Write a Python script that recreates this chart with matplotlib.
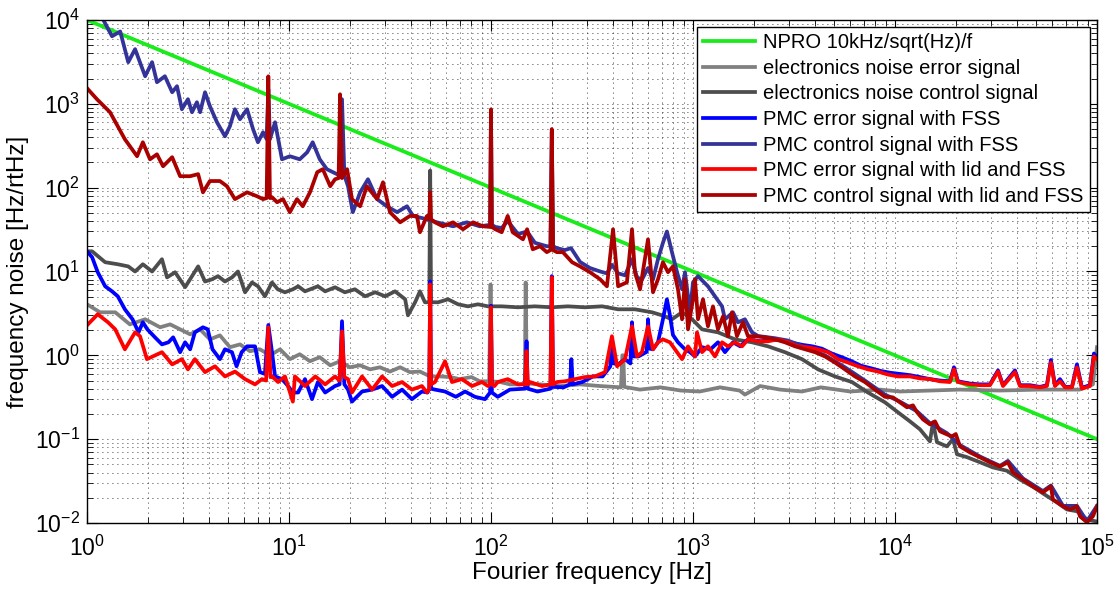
import matplotlib
matplotlib.use("Agg")
import matplotlib.pyplot as plt
from matplotlib.ticker import LogLocator, NullFormatter

plt.rcParams['font.family'] = ['Liberation Sans', 'DejaVu Sans']

# NPRO free running noise 1e4/f
f_npro = [1, 1e5]
a_npro = [1e4, 0.1]

# electronics noise, error signal
f_el_err = [1, 1.16, 1.38, 1.63, 1.94, 2.3, 2.58, 3.24, 3.63, 4.06, 4.55, 5.1, 5.72, 6.41,
            7.18, 8.05, 9.03, 10.1, 11.3, 12.7, 14.2, 16.0, 17.9, 20.0, 22.5, 25.2, 28.2,
            31.6, 35.5, 39.7, 44.5, 50.0, 56.0, 63.0, 70.0, 80.0, 88.0, 98.0, 99.5, 101,
            111, 124, 139, 147, 148.5, 150.5, 156, 175, 220, 276, 347, 440, 447, 452, 457,
            547, 690, 870, 1080, 1360, 1700, 1808, 2150, 2700, 3460, 4300, 6000, 8430,
            10600, 15000, 21000, 33000, 52000, 82000, 95500, 100000]
a_el_err = [4.06, 3.26, 3.26, 2.34, 2.69, 2.16, 2.34, 1.78, 2.04, 1.55, 1.73, 1.25, 1.35, 1.12,
            1.18, 1.0, 1.18, 0.9, 1.03, 0.85, 0.95, 0.76, 0.85, 0.72, 0.76, 0.68, 0.72,
            0.64, 0.72, 0.63, 0.64, 0.56, 0.56, 0.55, 0.52, 0.55, 0.49, 0.49, 7.0, 0.49,
            0.48, 0.45, 0.45, 0.46, 7.4, 0.46, 0.46, 0.45, 0.43, 0.45, 0.43, 0.415, 1.0, 1.0, 0.42,
            0.39, 0.415, 0.38, 0.37, 0.415, 0.38, 0.34, 0.43, 0.39, 0.37, 0.415, 0.37, 0.39,
            0.37, 0.38, 0.39, 0.38, 0.39, 0.39, 0.45, 1.25]

# electronics noise, control signal
f_el_ctl = [1, 1.06, 1.23, 1.42, 1.6, 1.73, 1.89, 2.1, 2.35, 2.49, 2.73, 3.06, 3.55, 3.84,
            4.16, 4.45, 4.82, 5.22, 5.59, 6.06, 6.56, 7.02, 7.6, 8.24, 8.8, 9.55, 10.45,
            11.1, 12.0, 13.9, 15.1, 16.9, 18.9, 21.2, 23.8, 26.7, 29.9, 33.5, 37.6, 38.8,
            42.1, 44.5, 47.1, 49.5, 50.0, 50.5, 54.7, 61.3, 68.7, 76.9, 86.2, 96.6, 113,
            136, 165, 200, 240, 292, 355, 426, 516, 627, 703, 787, 883, 990, 1109, 1330,
            1614, 1960, 2352, 2853, 3465, 4159, 5047, 6126, 7350, 8920, 10600, 11860,
            13300, 14900, 15420, 16140, 18080, 19370, 20280, 22710, 26360, 30550, 35840,
            41580, 48180, 56500, 63390, 71000, 79600, 89200, 100000]
a_el_ctl = [17.4, 17.4, 12.9, 12.2, 11.5, 10.0, 12.2, 10.0, 14.0, 8.5, 9.8, 6.5, 11.5, 7.6,
            8.07, 8.8, 7.6, 8.5, 10.0, 5.65, 7.4, 6.66, 5.06, 7.4, 6.13, 5.65, 6.13,
            6.66, 5.8, 6.66, 5.8, 6.48, 5.65, 6.13, 5.06, 5.65, 5.06, 5.8, 4.66, 3.0,
            4.29, 5.8, 4.29, 4.3, 160, 4.3, 4.29, 4.66, 4.06, 3.84, 4.06, 3.84, 3.84,
            3.74, 3.84, 3.74, 3.84, 3.74, 3.84, 3.54, 3.54, 3.26, 3.0, 2.69, 3.26, 2.69,
            2.04, 1.88, 1.55, 1.43, 1.28, 1.09, 0.90, 0.68, 0.56, 0.48, 0.36, 0.275, 0.2,
            0.163, 0.131, 0.094, 0.159, 0.092, 0.082, 0.1, 0.066, 0.061, 0.053, 0.046,
            0.042, 0.033, 0.027, 0.021, 0.0176, 0.0145, 0.0138, 0.011, 0.0104]

# PMC error signal with FSS
f_err_fss = [1, 1.06, 1.13, 1.23, 1.33, 1.42, 1.54, 1.68, 1.8, 1.89, 1.99, 2.17, 2.35,
             2.53, 2.67, 2.89, 3.06, 3.24, 3.42, 3.75, 3.96, 4.18, 4.55, 4.82, 5.22,
             5.5, 5.83, 6.2, 6.79, 7.18, 7.6, 7.9, 8.24, 8.53, 9.23, 9.9, 10.45, 11.1,
             12.0, 13.0, 13.9, 15.1, 16.9, 17.8, 18.3, 18.8, 19.6, 20.5, 23.0, 25.8, 28.9,
             32.4, 36.3, 40.6, 45.5, 48.5, 49.5, 50.0, 50.5, 52.8, 59.2, 67.0, 74.4, 83.3,
             93.4, 99, 100, 101, 108, 124, 147.5, 150, 152, 170, 197, 200, 203, 229, 246,
             250, 254, 283, 320, 357, 390, 397, 405, 426, 461, 490, 499, 510, 537, 590,
             599, 610, 634, 671, 710, 743, 769, 796, 843, 913, 967, 1023, 1109, 1221,
             1330, 1440, 1578, 1715, 1872, 2170, 2500, 2800, 3150, 3500, 3900, 4350,
             4870, 5450, 6100, 6800, 7620, 8520, 9440, 10590, 11860, 13300, 14900, 16710,
             18710, 19590, 20500, 23500, 26360, 29530, 32360, 34270, 39270, 41580, 46560,
             52200, 56500, 59170, 61940, 65610, 69500, 75200, 79600, 84300, 92300, 96600,
             100000]
a_err_fss = [17.4, 14.8, 9.8, 6.66, 5.8, 5.06, 3.54, 2.69, 1.88, 2.48, 2.04, 1.64, 1.35,
             1.43, 1.64, 1.09, 1.43, 1.18, 1.88, 2.16, 2.04, 1.18, 0.9, 1.18, 1.09,
             0.74, 1.09, 1.28, 1.28, 0.63, 0.6, 2.3, 1.09, 0.56, 0.52, 0.43, 0.36, 0.36,
             0.52, 0.30, 0.48, 0.36, 0.43, 0.45, 2.55, 0.45, 0.39, 0.28, 0.37, 0.39, 0.43,
             0.32, 0.39, 0.30, 0.37, 0.36, 0.4, 7.6, 0.4, 0.39, 0.37, 0.32, 0.37, 0.32,
             0.30, 0.36, 3.9, 0.36, 0.32, 0.39, 0.4, 1.47, 0.4, 0.37, 0.4, 8.8, 0.42, 0.415, 0.45,
             0.9, 0.45, 0.48, 0.56, 0.56, 0.74, 1.55, 0.8, 0.78, 0.9, 0.8, 2.48, 0.97, 0.97, 1.1,
             2.69, 1.2, 1.18, 1.43, 2.69, 4.66, 3.0, 1.75, 1.43, 1.18, 1.09, 0.97, 1.25, 1.18,
             1.43, 1.09, 1.43, 1.28, 1.55, 1.47, 1.55, 1.5, 1.4, 1.33, 1.28, 1.2,
             1.05, 0.95, 0.85, 0.75, 0.70, 0.65, 0.62, 0.60, 0.58, 0.55, 0.52, 0.50,
             0.49, 0.72, 0.49, 0.46, 0.45, 0.45, 0.66, 0.44, 0.66, 0.44, 0.44,
             0.42, 0.44, 0.88, 0.44, 0.52, 0.42, 0.42, 0.78, 0.41, 0.44, 1.05,
             0.95]

# PMC control signal with FSS
f_ctl_fss = [1.0, 1.2, 1.33, 1.46, 1.6, 1.73, 1.94, 2.1, 2.22, 2.43, 2.64, 2.79, 2.95,
             3.16, 3.31, 3.5, 3.63, 3.84, 4.06, 4.4, 4.82, 5.1, 5.4, 5.72, 6.2, 6.64,
             7.02, 7.44, 7.75, 7.9, 8.05, 8.53, 9.23, 10.1, 11.3, 12.3, 13.1, 14.2, 15.4,
             16.5, 17.8, 18.3, 18.8, 19.6, 20.7, 22.5, 24.6, 27.3, 30.5, 34.3, 38.4, 41.1,
             48.2, 54.0, 64.9, 76.0, 88.0, 99, 100, 101, 105, 113, 121, 136, 151, 165,
             189, 197, 200, 203, 212, 232, 249, 276, 309, 347, 375, 397, 426, 461, 499,
             528, 559, 599, 634, 671, 710, 743, 787, 834, 883, 913, 967, 1000, 1059,
             1186, 1285, 1393, 1440, 1578, 1670, 1808, 1960, 2100, 2545, 2953, 3586,
             4500, 5653, 7100, 8920, 10590, 12850, 14900, 18080, 20990, 26360, 33110,
             36240, 43030, 54050, 59170, 67920, 79600, 89200, 100000]
a_ctl_fss = [20000, 10200, 6400, 7300, 3140, 4490, 2135, 3140, 1810, 2135, 1375, 1622, 862,
             1135, 794, 1045, 794, 1375, 936, 603, 410, 541, 862, 655, 862, 498,
             348, 458, 380, 1500, 378, 603, 218, 237, 218, 264, 348, 218, 166,
             153, 140, 1135, 140, 104, 51, 88, 126, 73, 60, 51, 60, 46,
             42, 38.6, 34.6, 38.6, 34.6, 36, 800, 36, 34, 33, 40, 28, 30, 22,
             20, 20, 460, 20, 19, 18, 19, 13, 11, 10, 9.5, 12, 9.5, 9, 14,
             8.5, 8, 11, 8, 14, 22, 30, 17, 9.8, 6.13, 9.8, 3.26, 7.43, 8.8,
             6.66, 5.06, 3.84, 2.69, 3.26, 2.48, 2.69, 1.88, 1.7, 1.6, 1.5, 1.25,
             1.0, 0.72, 0.5, 0.34, 0.28, 0.215, 0.155, 0.118, 0.085, 0.062, 0.048,
             0.055, 0.034, 0.024, 0.028, 0.016, 0.016, 0.0105, 0.016]

# PMC error signal with lid and FSS
f_err_lid = [1, 1.13, 1.27, 1.38, 1.54, 1.73, 1.83, 1.98, 2.35, 2.64, 2.95, 3.16, 3.42,
             3.84, 4.3, 4.82, 5.4, 6.06, 6.79, 7.35, 7.7, 7.9, 8.1, 8.24, 8.83, 9.55,
             10.45, 10.7, 12.0, 13.5, 15.1, 16.9, 17.8, 18.3, 18.8, 19.6, 20.5, 23.0,
             25.8, 28.9, 32.4, 36.3, 40.6, 45.5, 48.2, 49.5, 50.0, 50.5, 52.8, 59.2,
             64.1, 71.8, 80.5, 90.2, 96.6, 99, 100, 101, 104, 108, 121, 136, 147.5, 150,
             152, 156, 179, 197, 200, 203, 212, 232, 261, 292, 327, 367, 397, 421, 461,
             499, 528, 559, 599, 634, 671, 710, 769, 834, 883, 945, 1023, 1047, 1109,
             1186, 1285, 1393, 1490, 1614, 1750, 1872, 2100, 2352, 2636, 2953, 3311,
             3710, 4159, 4660, 5224, 5851, 6561, 7350, 8240, 9230, 10350, 11860, 13300,
             14900, 16710, 18710, 19590, 20500, 23500, 26360, 29530, 32360, 34270,
             39270, 41580, 46560, 52200, 56500, 59170, 61940, 65610, 69500, 75200,
             79600, 84300, 92300, 96600, 100000]
a_err_lid = [2.28, 3.09, 2.48, 2.04, 1.18, 1.88, 1.69, 0.9, 1.09, 0.78, 0.9, 0.68, 0.9,
             0.63, 0.74, 0.56, 0.64, 0.52, 0.45, 0.52, 0.5, 2.16, 0.55, 0.56, 0.48, 0.56,
             0.28, 0.56, 0.43, 0.56, 0.45, 0.56, 0.5, 1.93, 0.55, 0.52, 0.36, 0.56,
             0.39, 0.56, 0.43, 0.48, 0.39, 0.43, 0.36, 0.4, 7.0, 0.45, 0.48, 0.85,
             0.48, 0.52, 0.43, 0.48, 0.43, 0.45, 3.74, 0.45, 0.43, 0.48, 0.52, 0.45, 0.45, 1.12,
             0.45, 0.48, 0.43, 0.45, 8.5, 0.45, 0.48, 0.49, 0.52, 0.55, 0.56, 0.63, 1.69, 0.74, 0.9,
             2.22, 0.97, 1.09, 2.22, 1.18, 1.43, 1.55, 1.43, 1.09, 0.9, 1.28, 0.97, 1.88, 1.09,
             1.28, 0.97, 1.43, 1.28, 1.43, 1.28, 1.55, 1.47, 1.47, 1.55, 1.43, 1.28,
             1.25, 1.18, 1.09, 0.9, 0.82, 0.74, 0.68, 0.64, 0.59, 0.56, 0.56, 0.53,
             0.52, 0.49, 0.48, 0.68, 0.48, 0.45, 0.44, 0.44, 0.64, 0.43,
             0.63, 0.43, 0.43, 0.415, 0.43, 0.82, 0.43, 0.49, 0.415, 0.415,
             0.72, 0.40, 0.43, 0.97, 0.9]

# PMC control signal with lid and FSS
f_ctl_lid = [1, 1.12, 1.3, 1.42, 1.54, 1.77, 1.89, 2.05, 2.22, 2.38, 2.64, 2.89, 3.24,
             3.55, 3.75, 4.06, 4.55, 4.93, 5.4, 6.2, 6.95, 7.44, 7.75, 7.9, 8.05, 8.24,
             8.73, 9.34, 10.1, 10.95, 11.7, 12.7, 13.8, 14.7, 16.0, 16.9, 17.6, 17.9,
             18.3, 19.4, 20.5, 22.5, 24.3, 27.3, 29.2, 31.6, 35.5, 39.7, 43.0, 44.5,
             48.2, 49.5, 50.0, 50.5, 52.8, 57.8, 64.9, 72.7, 81.5, 91.3, 99, 100, 101,
             105, 113, 121, 128, 144, 151, 161, 175, 189, 197, 200, 203, 212, 227, 252,
             276, 309, 347, 375, 402, 426, 471, 499, 516, 547, 599, 634, 671, 710, 752,
             796, 843, 883, 913, 945, 1000, 1023, 1059, 1121, 1186, 1256, 1330, 1409,
             1490, 1560, 1651, 1768, 1872, 2028, 2272, 2545, 2853, 3198, 3586, 4018,
             4500, 5047, 5653, 6339, 7100, 7960, 8920, 9770, 10590, 11460, 12280, 12850,
             13770, 14900, 15780, 16710, 18080, 19150, 20000, 20990, 23500, 26360,
             29530, 33110, 36240, 38380, 43030, 48180, 54050, 59170, 60530, 67920,
             73500, 79600, 82400, 89200, 95500, 100000]
a_ctl_lid = [1536, 1135, 794, 541, 378, 237, 348, 218, 250, 180, 231, 137, 137,
             145, 88, 120, 120, 104, 73, 88, 79, 73, 75, 2130, 75, 77,
             67, 73, 51, 73, 60, 88, 153, 166, 104, 126, 130, 1300,
             130, 166, 73, 60, 104, 73, 116, 51, 38.6, 46, 46, 29.4,
             46, 42, 88, 42, 38.6, 34.6, 38.6, 31.9, 38.6, 34.6, 34, 860, 34,
             31.9, 29.4, 46, 29.4, 24.2, 31.9, 18.4, 20, 17, 18, 500, 18, 17, 17, 12.9,
             11.5, 9.8, 8.07, 6.66, 31.9, 6.66, 7.43, 31.9, 9.8, 6.13, 24.2, 5.65, 8.07, 12.9, 9.8,
             11.5, 6.13, 2.69, 8.07, 2.04, 4.66, 8.07, 2.69, 4.66, 2.22, 3.84, 2.04, 2.92,
             1.69, 3.26, 1.69, 2.48, 1.69, 1.69, 1.64, 1.55, 1.43, 1.28, 1.18, 1.09,
             0.97, 0.82, 0.68, 0.56, 0.48, 0.39, 0.32, 0.315, 0.275, 0.24, 0.253, 0.21,
             0.172, 0.15, 0.163, 0.124, 0.114, 0.108, 0.115, 0.082, 0.0695, 0.0607,
             0.0529, 0.0473, 0.0529, 0.0402, 0.0331, 0.0273, 0.0232, 0.0273, 0.0191, 0.0158,
             0.0145, 0.0158, 0.012, 0.0102, 0.012, 0.0158]

series = [
    (f_npro, a_npro, (0.1, 0.92, 0.1), 'NPRO 10kHz/sqrt(Hz)/f'),
    (f_el_err, a_el_err, (0.5, 0.5, 0.5), 'electronics noise error signal'),
    (f_el_ctl, a_el_ctl, (0.3, 0.3, 0.3), 'electronics noise control signal'),
    (f_err_fss, a_err_fss, (0.0, 0.0, 1.0), 'PMC error signal with FSS'),
    (f_ctl_fss, a_ctl_fss, (0.2, 0.2, 0.6), 'PMC control signal with FSS'),
    (f_err_lid, a_err_lid, (1.0, 0.0, 0.0), 'PMC error signal with lid and FSS'),
    (f_ctl_lid, a_ctl_lid, (0.67, 0.0, 0.0), 'PMC control signal with lid and FSS'),
]

fig = plt.figure(figsize=(11.14, 5.90), dpi=100)
ax = fig.add_axes([0.0781, 0.1136, 0.9066, 0.8525])

for f, a, c, lab in series:
    ax.loglog(f, a, color=c, lw=2.7, label=lab)

ax.set_xlim(1, 1e5)
ax.set_ylim(1e-2, 1e4)
ax.xaxis.set_major_locator(LogLocator(base=10, numticks=10))
ax.yaxis.set_major_locator(LogLocator(base=10, numticks=10))
ax.xaxis.set_minor_locator(LogLocator(base=10, subs=range(2, 10), numticks=20))
ax.yaxis.set_minor_locator(LogLocator(base=10, subs=range(2, 10), numticks=20))
ax.xaxis.set_minor_formatter(NullFormatter())
ax.yaxis.set_minor_formatter(NullFormatter())

ax.grid(True, which='both', linestyle=(0, (1, 5)), color='k', lw=0.6)
ax.tick_params(which='both', direction='in', top=True, right=True, labelsize=16.5)
ax.tick_params(axis='x', which='both', pad=9)
ax.tick_params(axis='y', which='both', pad=5)
ax.tick_params(which='major', length=8)
ax.tick_params(which='minor', length=4)
for s in ax.spines.values():
    s.set_linewidth(1.0)

ax.set_xlabel('Fourier frequency [Hz]', fontsize=17.5, labelpad=1)
ax.set_ylabel('frequency noise [Hz/rtHz]', fontsize=17.5, labelpad=4)

leg = ax.legend(loc='upper right', fontsize=14.5, handlelength=2.6, labelspacing=0.33,
                borderpad=0.3, borderaxespad=0.35, fancybox=False, framealpha=1,
                edgecolor='k', handletextpad=0.4)
leg.get_frame().set_linewidth(1.0)

fig.savefig('out.png', dpi=100)
